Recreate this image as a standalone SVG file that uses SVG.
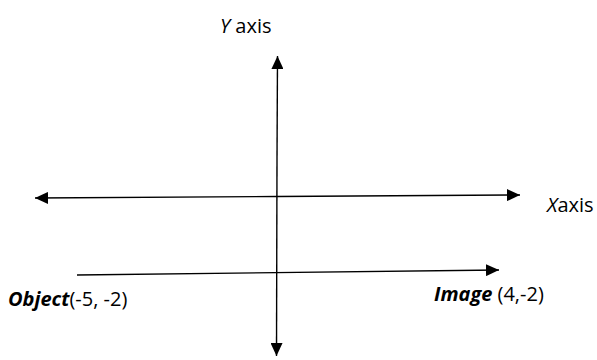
<svg xmlns="http://www.w3.org/2000/svg" width="597" height="360" viewBox="0 0 597 360">
<style>
.ln{stroke:#000;stroke-width:1.4;fill:none}
.t{font-family:"Open Sans","Liberation Sans",sans-serif;font-size:20px;fill:#000}
.i{font-style:italic}
.b{font-weight:bold;font-style:italic}
</style>
<defs>
<marker id="ah" viewBox="0 0 13 12" refX="13" refY="6" markerWidth="13" markerHeight="12" markerUnits="userSpaceOnUse" orient="auto">
<path d="M0,0 L13,6 L0,12 Z" fill="#000"/>
</marker>
</defs>
<g id="connectors">
<line class="ln" x1="277" y1="160" x2="277.5" y2="56" marker-end="url(#ah)"/>
<line class="ln" x1="277" y1="160" x2="276.5" y2="356" marker-end="url(#ah)"/>
<line class="ln" x1="277" y1="196.5" x2="35" y2="198" marker-end="url(#ah)"/>
<line class="ln" x1="277" y1="196.5" x2="520" y2="195" marker-end="url(#ah)"/>
<line class="ln" x1="77" y1="275" x2="499" y2="270" marker-end="url(#ah)"/>
</g>
<g id="y-label"><text class="t" x="220" y="33"><tspan class="i">Y</tspan> axis</text></g>
<g id="x-label"><text class="t" x="547" y="212"><tspan class="i">X</tspan>axis</text></g>
<g id="object"><text class="t" x="8" y="306"><tspan class="b">Object</tspan>(-5, -2)</text></g>
<g id="image"><text class="t" x="434" y="301"><tspan class="b">Image</tspan> (4,-2)</text></g>
</svg>
